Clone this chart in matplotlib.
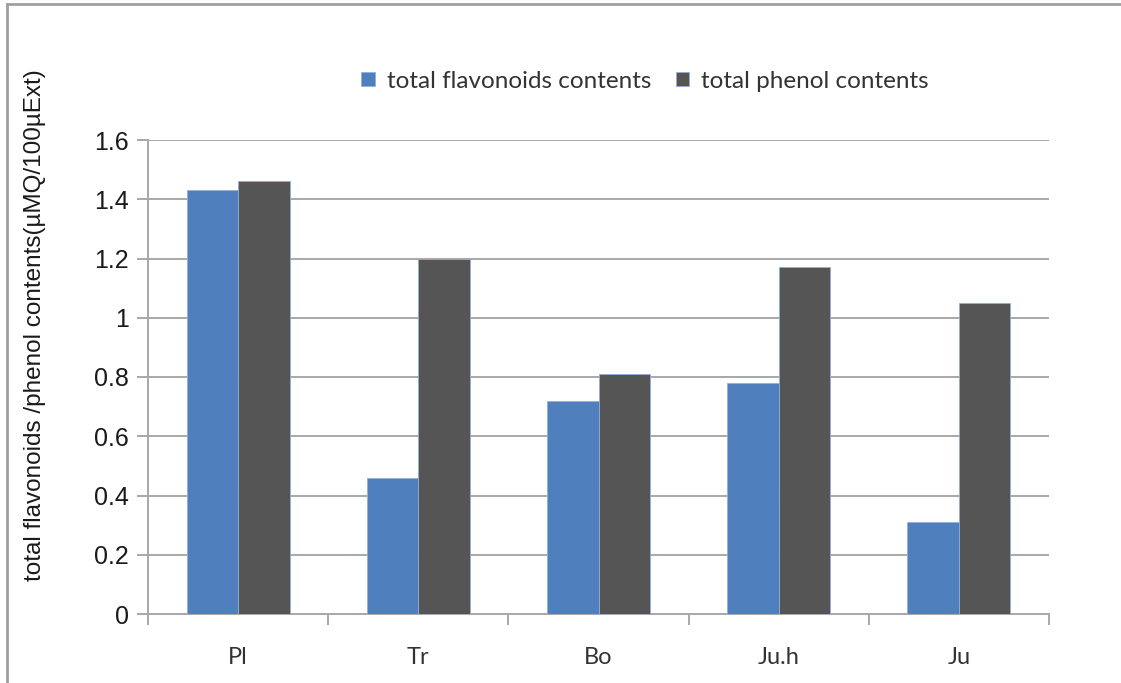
import matplotlib
matplotlib.use("Agg")
import matplotlib.pyplot as plt
from matplotlib.lines import Line2D
from matplotlib.patches import Patch
import numpy as np

categories = ["Pl", "Tr", "Bo", "Ju.h", "Ju"]
flavonoids = [1.43, 0.46, 0.72, 0.78, 0.31]
phenols = [1.46, 1.20, 0.81, 1.17, 1.05]
series_names = ["total flavonoids contents", "total phenol contents"]
y_ticks = [0, 0.2, 0.4, 0.6, 0.8, 1.0, 1.2, 1.4, 1.6]
y_tick_labels = ["0", "0.2", "0.4", "0.6", "0.8", "1", "1.2", "1.4", "1.6"]
y_label = "total flavonoids /phenol contents(\u00b5MQ/100\u00b5Ext)"

W, H = 1121, 683
fig = plt.figure(figsize=(W / 100, H / 100), dpi=100)
fig.patch.set_facecolor("white")

ax = fig.add_axes([148 / W, 1 - 614 / H, (1049 - 148) / W, (614 - 140) / H])

blue = "#4f7fbc"
dark = "#555555"
grid_c = "#a8a8a8"
bw = 0.2857
x = np.arange(len(categories))
ax.bar(x - bw / 2, flavonoids, width=bw, color=blue, edgecolor="#8fb0dc", linewidth=0.6, zorder=3)
ax.bar(x + bw / 2, phenols, width=bw, color=dark, edgecolor="#8fb0dc", linewidth=0.6, zorder=3)

ax.set_xlim(-0.5, len(categories) - 0.5)
ax.set_ylim(0, 1.6)

ax.set_yticks(y_ticks)
ax.set_yticklabels(y_tick_labels, family="Liberation Sans", fontsize=18, color="#1a1a1a")
for yv in y_ticks[1:]:
    ax.axhline(yv, color=grid_c, linewidth=1.4, zorder=1)

ax.set_xticks(np.arange(len(categories) + 1) - 0.5)
ax.set_xticklabels([])
ax.set_xticks(x, minor=True)
ax.set_xticklabels(categories, minor=True, family="Lato", fontsize=17, color="#333333")
ax.tick_params(axis="x", which="minor", length=0, pad=24)
ax.tick_params(axis="x", which="major", length=8, width=1.4, color=grid_c, direction="out")
ax.tick_params(axis="y", length=8, width=1.4, color=grid_c, direction="out", pad=6)

for s in ["top", "right"]:
    ax.spines[s].set_visible(False)
for s in ["left", "bottom"]:
    ax.spines[s].set_color(grid_c)
    ax.spines[s].set_linewidth(1.4)

fig.text(35 / W, 1 - 325 / H, y_label, rotation=90, ha="center", va="center",
         family="Liberation Sans", fontsize=17.5, color="#1a1a1a")

handles = [Patch(facecolor=blue, edgecolor="#8fb0dc", linewidth=0.6),
           Patch(facecolor=dark, edgecolor="#8fb0dc", linewidth=0.6)]
fig.legend(handles, series_names, loc="center", bbox_to_anchor=(645 / W, 1 - 81 / H),
           ncol=2, frameon=False, prop={"family": "Lato", "size": 17.5},
           handlelength=0.55, handleheight=0.55, handletextpad=0.5, columnspacing=1.0,
           labelcolor="#333333")

# outer frame (top and left edges)
fig.add_artist(Line2D([7 / W, 1], [1 - 4 / H, 1 - 4 / H], color="#a0a0a0", linewidth=2, transform=fig.transFigure))
fig.add_artist(Line2D([7 / W, 7 / W], [0, 1 - 4 / H], color="#a0a0a0", linewidth=2, transform=fig.transFigure))

fig.savefig("out.png", dpi=100, facecolor="white")
